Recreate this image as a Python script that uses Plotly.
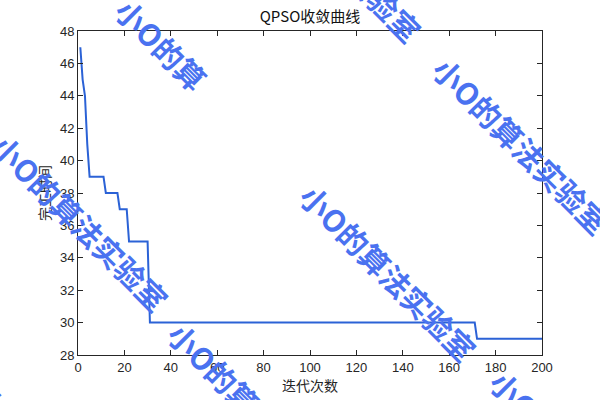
import plotly.graph_objects as go

iterations = list(range(1, 201))
best_makespan = [
    47, 45, 44, 41,
    39, 39, 39, 39, 39, 39, 39,
    38, 38, 38, 38, 38, 38,
    37, 37, 37, 37,
    35, 35, 35, 35, 35, 35, 35, 35, 35,
    30, 30, 30, 30, 30, 30, 30, 30, 30, 30, 30, 30, 30, 30, 30, 30, 30, 30, 30, 30,
    30, 30, 30, 30, 30, 30, 30, 30, 30, 30, 30, 30, 30, 30, 30, 30, 30, 30, 30, 30,
    30, 30, 30, 30, 30, 30, 30, 30, 30, 30, 30, 30, 30, 30, 30, 30, 30, 30, 30, 30,
    30, 30, 30, 30, 30, 30, 30, 30, 30, 30, 30, 30, 30, 30, 30, 30, 30, 30, 30, 30,
    30, 30, 30, 30, 30, 30, 30, 30, 30, 30, 30, 30, 30, 30, 30, 30, 30, 30, 30, 30,
    30, 30, 30, 30, 30, 30, 30, 30, 30, 30, 30, 30, 30, 30, 30, 30, 30, 30, 30, 30,
    30, 30, 30, 30, 30, 30, 30, 30, 30, 30, 30, 30, 30, 30, 30, 30, 30, 30, 30, 30,
    30,
    29, 29, 29, 29, 29, 29, 29, 29, 29, 29, 29, 29, 29, 29, 29, 29, 29, 29, 29, 29,
    29, 29, 29, 29, 29, 29, 29, 29, 29,
]
x_ticks = [0, 20, 40, 60, 80, 100, 120, 140, 160, 180, 200]
y_ticks = [28, 30, 32, 34, 36, 38, 40, 42, 44, 46, 48]
title_text = "QPSO收敛曲线"
x_label = "迭代次数"
y_label = "完工时间"
watermark_text = "小O的算法实验室"
watermark_partial = "小O的算"

W, H = 600, 400
L, R, T, B = 78, 58, 31, 45
pw, ph = W - L - R, H - T - B


def px2paper(px, py):
    return (px - L) / pw, (H - B - py) / ph


fig = go.Figure()
fig.add_trace(go.Scatter(
    x=iterations, y=best_makespan, mode="lines",
    line=dict(color="#2b62d6", width=2), showlegend=False,
))

axis_common = dict(
    showline=True, linecolor="#262626", linewidth=1, mirror="ticks",
    ticks="inside", ticklen=5, tickcolor="#262626", showgrid=False,
    zeroline=False, tickfont=dict(family="Liberation Sans, Arial", size=13, color="#262626"),
)
fig.update_xaxes(range=[0, 200], tickvals=x_ticks, **axis_common,
                 title=dict(text=x_label, standoff=4,
                            font=dict(family="Noto Sans CJK SC", size=14, color="#262626")))
fig.update_yaxes(range=[28, 48], tickvals=y_ticks, **axis_common,
                 title=dict(text=y_label, standoff=6,
                            font=dict(family="Noto Sans CJK SC", size=14, color="#262626")))

fig.update_layout(
    width=W, height=H, margin=dict(l=L, r=R, t=T, b=B, pad=0),
    plot_bgcolor="white", paper_bgcolor="white",
    title=dict(text=title_text, x=0.5, xref="paper", y=(H - 17) / H, yanchor="middle",
               font=dict(family="Noto Sans CJK SC, Liberation Sans", size=15, color="#111111")),
)

# watermark placements (pixel centers)
marks = [
    (521, 145, watermark_text),
    (388, 272, watermark_text),
    (80, 222, watermark_text),
    (256, 410, watermark_text),
    (578, 458, watermark_text),
    (333, -47, watermark_text),
    (-55, 355, watermark_text),
    (161, 44, watermark_partial),
]
for cx, cy, txt in marks:
    xp, yp = px2paper(cx, cy)
    fig.add_annotation(
        x=xp, y=yp, xref="paper", yref="paper", text="<b>" + txt + "</b>",
        showarrow=False, textangle=45, xanchor="center", yanchor="middle",
        font=dict(family="Noto Sans CJK SC", size=30, color="#4a72f0"),
    )

fig.write_html("out.html", config={"displayModeBar": False},
               post_script="document.body.style.margin='0';document.body.style.overflow='hidden';")
